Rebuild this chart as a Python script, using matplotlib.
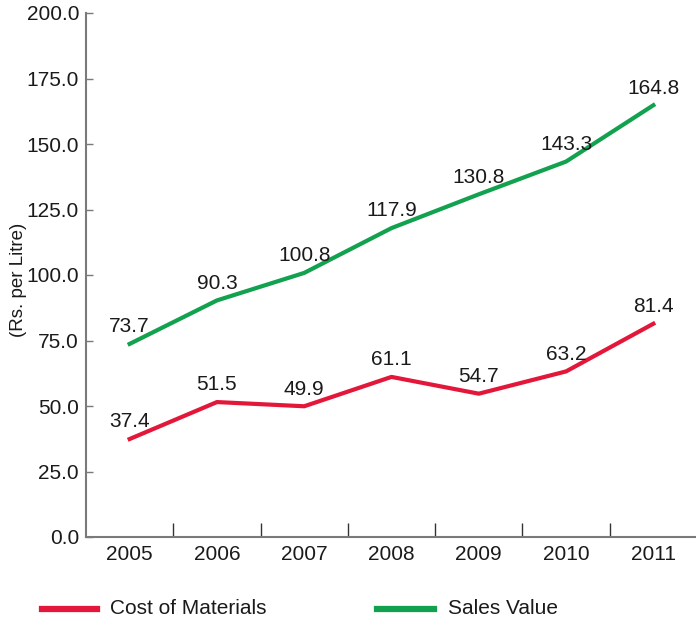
import matplotlib
matplotlib.use("Agg")
import matplotlib.pyplot as plt
from matplotlib.lines import Line2D

years = ["2005", "2006", "2007", "2008", "2009", "2010", "2011"]
cost_of_materials = [37.4, 51.5, 49.9, 61.1, 54.7, 63.2, 81.4]
sales_value = [73.7, 90.3, 100.8, 117.9, 130.8, 143.3, 164.8]
y_ticks = [0, 25, 50, 75, 100, 125, 150, 175, 200]

RED = "#e3173a"
GREEN = "#12a14e"
AXIS = "#7a7a7a"
TEXT = "#1a1a1a"
FS = 15

plt.rcParams["font.family"] = ["Liberation Sans", "DejaVu Sans"]

W, H = 696, 622
fig = plt.figure(figsize=(W / 100, H / 100), dpi=100)
ax = fig.add_axes([86 / W, 1 - 537 / H, (697 - 86) / W, (537 - 13) / H])

x = list(range(len(years)))
ax.plot(x, sales_value, color=GREEN, lw=3.0, solid_joinstyle="round", clip_on=False)
ax.plot(x, cost_of_materials, color=RED, lw=3.0, solid_joinstyle="round", clip_on=False)

for series in (sales_value, cost_of_materials):
    for xi, v in zip(x, series):
        ax.annotate(f"{v:.1f}", (xi, v), xytext=(0, 5.5), textcoords="offset points",
                    ha="center", va="bottom", fontsize=FS, color=TEXT)

ax.set_xlim(-0.5, len(years) - 0.5)
ax.set_ylim(0, 200)

ax.set_yticks(y_ticks)
ax.set_yticklabels([f"{t:.1f}" for t in y_ticks], fontsize=FS, color=TEXT)
ax.tick_params(axis="y", direction="in", length=5, width=1, color=AXIS, pad=5)

# category boundary ticks on the x axis, labels centred on the categories
ax.set_xticks([i + 0.5 for i in range(len(years) - 1)])
ax.set_xticklabels([])
ax.tick_params(axis="x", direction="in", length=10, width=1, color="#333333")
for xi, lab in zip(x, years):
    ax.text(xi, -0.016, lab, transform=ax.get_xaxis_transform(), ha="center", va="top",
            fontsize=FS, color=TEXT)

for side in ("top", "right"):
    ax.spines[side].set_visible(False)
for side in ("left", "bottom"):
    ax.spines[side].set_color(AXIS)
    ax.spines[side].set_linewidth(1.5)

fig.text(19 / W, 1 - 280 / H, "(Rs. per Litre)", rotation=90, ha="center", va="center",
         fontsize=13.5, color=TEXT)

# legend drawn in figure coordinates
ly = 1 - 609 / H
fig.add_artist(Line2D([42 / W, 97 / W], [ly, ly], color=RED, lw=4.5, transform=fig.transFigure))
fig.text(110 / W, ly, "Cost of Materials", ha="left", va="center", fontsize=FS, color=TEXT)
fig.add_artist(Line2D([377 / W, 434 / W], [ly, ly], color=GREEN, lw=4.5, transform=fig.transFigure))
fig.text(448 / W, ly, "Sales Value", ha="left", va="center", fontsize=FS, color=TEXT)

fig.savefig("out.png", dpi=100)
